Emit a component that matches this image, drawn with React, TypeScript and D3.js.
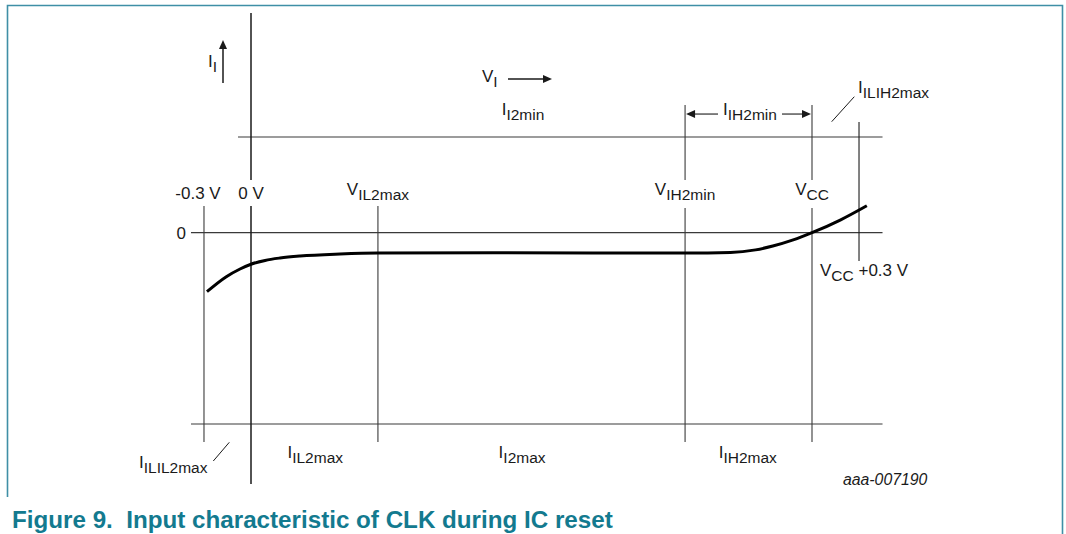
import React from 'react'
import * as d3 from 'd3'

// voltage marks on the x axis (volts, schematic)
const markVolts = [-0.3, 0, 0.81, 2.77, 3.58, 3.88]
const markMain = ['-0.3 V', '0 V', 'V', 'V', 'V', 'V']
const markSub = ['', '', 'IL2max', 'IH2min', 'CC', 'CC']
const markTail = ['', '', '', '', '', ' +0.3 V']

// current levels (schematic units): I_I2min, zero, I_I2max
const levelValues = [1, 0, -2]

// regions below the I_I2max line
const regionVolts = [0.41, 1.73, 3.17]
const regionSub = ['IL2max', 'I2max', 'IH2max']

// input current curve
const curveVolts = [-0.281, -0.16, -0.07, 0, 0.09, 0.185, 0.313, 0.568, 0.81, 1.59, 2.77, 3.06, 3.22, 3.33, 3.46, 3.58, 3.76, 3.93]
const curveCurrent = [-0.617, -0.463, -0.38, -0.33, -0.29, -0.265, -0.244, -0.223, -0.213, -0.21, -0.213, -0.207, -0.18, -0.14, -0.076, 0, 0.132, 0.282]

const FONT = '"Liberation Sans", Arial, sans-serif'
const INK = '#1a1a1a'
const GRID = '#3a3a3a'

const Label = ({ x, y, main, sub = '', tail = '', anchor = 'start', size = 17 }: any) => (
    <text x={x} y={y} textAnchor={anchor} fontFamily={FONT} fontSize={size} fill={INK} style={{ whiteSpace: 'pre' }}>
        {main}
        {sub && <tspan fontSize={size - 1.5} dy={5}>{sub}</tspan>}
        {tail && <tspan dy={sub ? -5 : 0}>{tail}</tspan>}
    </text>
)

const App = () => {
    const x = d3.scaleLinear().domain([0, 3.58]).range([251, 812])
    const y = d3.scaleLinear().domain([-2, 1]).range([424, 137])

    const line = d3.line<number>()
        .x((_, i) => x(curveVolts[i]))
        .y(d => y(d))
        .curve(d3.curveMonotoneX)

    const hLeft = x(-0.383)
    const hRight = x(4.03)
    const vTop = y(0.279)
    const vBottom = y(-2.188)
    const upper = y(1.334)
    const gapTop = y(0.551)
    const gapBottom = y(0.258)

    // arrow helpers
    const head = (tx: number, ty: number, dir: string) => {
        const L = 9, W = 4
        if (dir === 'up') return `M${tx},${ty}L${tx - W},${ty + L}L${tx + W},${ty + L}Z`
        if (dir === 'right') return `M${tx},${ty}L${tx - L},${ty - W}L${tx - L},${ty + W}Z`
        return `M${tx},${ty}L${tx + L},${ty - W}L${tx + L},${ty + W}Z`
    }

    const dimY = y(1.24)

    return (
        <svg width={1066} height={534} style={{ position: 'absolute', left: 0, top: 0, background: '#fff' }}>
            {/* frame */}
            <path d="M7.5,497V5.5H1062.5V534" fill="none" stroke="#3f8fa6" strokeWidth={1.6} />

            {/* current levels */}
            <line x1={x(-0.083)} x2={hRight} y1={y(levelValues[0])} y2={y(levelValues[0])} stroke={GRID} strokeWidth={1.1} />
            <line x1={hLeft} x2={hRight} y1={y(levelValues[1])} y2={y(levelValues[1])} stroke={GRID} strokeWidth={1.1} />
            <line x1={hLeft} x2={hRight} y1={y(levelValues[2])} y2={y(levelValues[2])} stroke={GRID} strokeWidth={1.1} />

            {/* vertical axis (0 V), broken by its label */}
            <line x1={x(0)} x2={x(0)} y1={y(2.296)} y2={gapTop} stroke={INK} strokeWidth={1.5} />
            <line x1={x(0)} x2={x(0)} y1={y(0.279)} y2={y(-2.627)} stroke={INK} strokeWidth={1.5} />

            {/* voltage marks */}
            {[0, 2].map(i => (
                <line key={i} x1={x(markVolts[i])} x2={x(markVolts[i])} y1={vTop} y2={vBottom} stroke={GRID} strokeWidth={1.1} />
            ))}
            {[3, 4].map(i => (
                <g key={i}>
                    <line x1={x(markVolts[i])} x2={x(markVolts[i])} y1={upper} y2={gapTop} stroke={GRID} strokeWidth={1.1} />
                    <line x1={x(markVolts[i])} x2={x(markVolts[i])} y1={gapBottom} y2={vBottom} stroke={GRID} strokeWidth={1.1} />
                </g>
            ))}
            <line x1={x(markVolts[5])} x2={x(markVolts[5])} y1={y(1.157)} y2={y(-0.296)} stroke={INK} strokeWidth={1.1} />

            {/* curve */}
            <path d={line(curveCurrent) || ''} fill="none" stroke="#000" strokeWidth={3} strokeLinecap="butt" />

            {/* mark labels */}
            <Label x={x(markVolts[0]) - 6} y={199} main={markMain[0]} anchor="middle" />
            <Label x={x(markVolts[1])} y={199} main={markMain[1]} anchor="middle" />
            {[2, 3, 4].map(i => (
                <Label key={i} x={x(markVolts[i])} y={195} main={markMain[i]} sub={markSub[i]} anchor="middle" />
            ))}
            <Label x={x(markVolts[5]) - 39} y={276} main={markMain[5]} sub={markSub[5]} tail={markTail[5]} />
            <Label x={186} y={239} main="0" anchor="end" />

            {/* I_I axis label and arrow */}
            <Label x={208} y={67} main="I" sub="I" />
            <line x1={223} x2={223} y1={83} y2={46} stroke={INK} strokeWidth={1.5} />
            <path d={head(223, 40, 'up')} fill={INK} />

            {/* V_I label and arrow */}
            <Label x={482} y={82} main="V" sub="I" />
            <line x1={508} x2={546} y1={79} y2={79} stroke={INK} strokeWidth={1.5} />
            <path d={head(552, 79, 'right')} fill={INK} />

            <Label x={523} y={115} main="I" sub="I2min" anchor="middle" />

            {/* I_IH2min dimension */}
            <line x1={x(markVolts[3]) + 6} x2={718} y1={dimY} y2={dimY} stroke={INK} strokeWidth={1.1} />
            <path d={head(x(markVolts[3]) + 1, dimY, 'left')} fill={INK} />
            <Label x={750} y={115} main="I" sub="IH2min" anchor="middle" />
            <line x1={782} x2={x(markVolts[4]) - 6} y1={dimY} y2={dimY} stroke={INK} strokeWidth={1.1} />
            <path d={head(x(markVolts[4]) - 1, dimY, 'right')} fill={INK} />

            {/* I_ILIH2max leader */}
            <line x1={831.7} y1={121.7} x2={854.3} y2={96.7} stroke={INK} strokeWidth={1} />
            <Label x={858} y={93} main="I" sub="ILIH2max" />

            {/* region labels */}
            {regionVolts.map((v, i) => (
                <Label key={i} x={x(v)} y={458} main="I" sub={regionSub[i]} anchor="middle" />
            ))}
            <line x1={213.3} y1={461} x2={229.3} y2={442.3} stroke={INK} strokeWidth={1} />
            <Label x={139} y={468} main="I" sub="ILIL2max" />

            <text x={843} y={485} fontFamily={FONT} fontSize={15.8} fontStyle="italic" fill={INK}>aaa-007190</text>

            {/* caption */}
            <text x={12} y={528} fontFamily={FONT} fontSize={24.2} fontWeight="bold" fill="#137a8f" style={{ whiteSpace: 'pre' }}>
                Figure 9.  Input characteristic of CLK during IC reset
            </text>
        </svg>
    )
}

export default App
